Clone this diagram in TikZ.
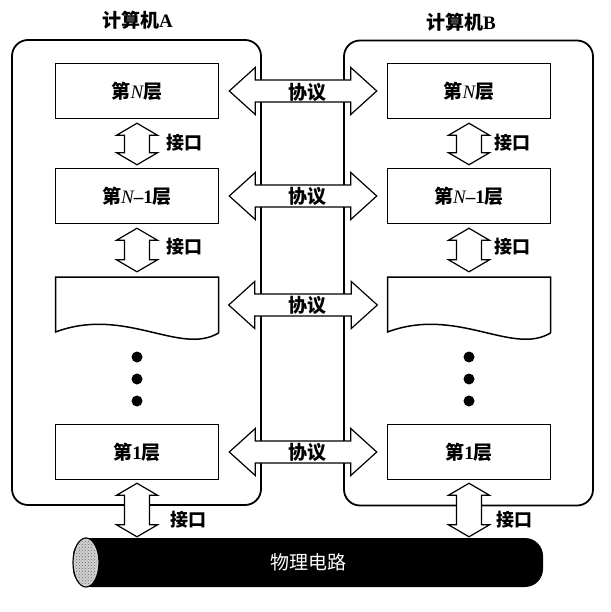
\documentclass[tikz,border=0pt]{standalone}
\usepackage{fontspec}
\setmainfont{Liberation Serif}
\newfontfamily\cjk{Noto Sans CJK SC}
\usetikzlibrary{calc,patterns}
\newcommand\fatH[2]{%
  \draw[fatarrow] let \p1=#1, \p2=#2 in
    (\x1,\y1) -- (\x1+26pt,\y1+23.5pt) -- (\x1+26pt,\y1+11pt) -- (\x2-26pt,\y1+11pt)
    -- (\x2-26pt,\y1+23.5pt) -- (\x2,\y1) -- (\x2-26pt,\y1-23.5pt) -- (\x2-26pt,\y1-11pt)
    -- (\x1+26pt,\y1-11pt) -- (\x1+26pt,\y1-23.5pt) -- cycle;}
\newcommand\fatV[2]{%
  \draw[fatarrow] let \p1=#1, \p2=#2 in
    (\x1,\y1) -- (\x1+20.5pt,\y1-12pt) -- (\x1+12.5pt,\y1-12pt) -- (\x1+12.5pt,\y2+12pt)
    -- (\x1+20.5pt,\y2+12pt) -- (\x1,\y2) -- (\x1-20.5pt,\y2+12pt) -- (\x1-12.5pt,\y2+12pt)
    -- (\x1-12.5pt,\y1-12pt) -- (\x1-20.5pt,\y1-12pt) -- cycle;}
\begin{document}
\begin{tikzpicture}[x=1pt,y=-1pt,
  computer/.style={draw, line width=1.8pt, rounded corners=16pt, minimum width=249pt, minimum height=465pt, inner sep=0pt},
  layer/.style={draw, line width=1.5pt, minimum width=163pt, minimum height=55pt, inner sep=0pt, font=\fontsize{19}{19}\selectfont\bfseries},
  fatarrow/.style={draw, fill=white, line width=1.2pt, line join=miter},
  lbl/.style={inner sep=0pt, font=\fontsize{18}{18}\selectfont\bfseries},
  plbl/.style={inner sep=0pt, font=\fontsize{19}{19}\selectfont\bfseries},
  title/.style={inner sep=0pt, font=\fontsize{19}{19}\selectfont\bfseries},
  dot/.style={circle, fill=black, minimum size=11pt, inner sep=0pt}]
\useasboundingbox (0,0) rectangle (610,612);

% computers
\node[computer] (compA) at (136.5,272.5) {};
\node[computer] (compB) at (468.5,273) {};
\node[title] (tA) at (137.5,20) {{\cjk 计算机}A};
\node[title] (tB) at (461,22) {{\cjk 计算机}B};

% layers A
\node[layer] (nA) at (137,91) {{\cjk 第}{\mdseries\itshape N}{\cjk 层}};
\node[layer] (n1A) at (137,196) {{\cjk 第}{\mdseries\itshape N}\textendash1{\cjk 层}};
\node[inner sep=0pt, minimum width=163pt, minimum height=56pt] (wA) at (137,305) {};
\draw[line width=1.5pt] (218.5,333) -- (218.5,277) -- (55.5,277) -- (55.5,332)
  .. controls (125,306) and (180,356) .. (218.5,333);
\node[dot] (dA1) at (137,357) {};
\node[dot] (dA2) at (137,379) {};
\node[dot] (dA3) at (137,401) {};
\node[layer] (oneA) at (137,452) {{\cjk 第}1{\cjk 层}};

% layers B
\node[layer] (nB) at (469,91) {{\cjk 第}{\mdseries\itshape N}{\cjk 层}};
\node[layer] (n1B) at (469,196) {{\cjk 第}{\mdseries\itshape N}\textendash1{\cjk 层}};
\node[inner sep=0pt, minimum width=163pt, minimum height=56pt] (wB) at (469,305) {};
\draw[line width=1.5pt] (550.5,333) -- (550.5,277) -- (387.5,277) -- (387.5,332)
  .. controls (457,306) and (512,356) .. (550.5,333);
\node[dot] (dB1) at (469,357) {};
\node[dot] (dB2) at (469,379) {};
\node[dot] (dB3) at (469,401) {};
\node[layer] (oneB) at (469,452) {{\cjk 第}1{\cjk 层}};

% cable
\node[fill=black, rounded corners=18pt, minimum width=470pt, minimum height=49pt, inner sep=0pt] (cable) at (308,562.5) {};
\filldraw[fill=gray!35, draw=black, line width=1.2pt] (86,562.5) ellipse [x radius=13pt, y radius=24.5pt];
\fill[pattern=crosshatch dots, pattern color=gray!80!black] (86,562.5) ellipse [x radius=11pt, y radius=22.5pt];
\node[inner sep=0pt, text=white, font=\fontsize{19}{19}\selectfont] (phys) at (308,562) {\cjk 物理电路};

% interface arrows A
\fatV{($(nA.south)+(0,4)$)}{($(n1A.north)+(0,-3)$)}
\fatV{($(n1A.south)+(0,4)$)}{($(wA.north)+(0,-5)$)}
\fatV{($(oneA.south)+(0,3)$)}{($(cable.north)+(-171,-1)$)}
\node[lbl] (iA1) at (184.5,143) {\cjk 接口};
\node[lbl] (iA2) at (184.5,247) {\cjk 接口};
\node[lbl] (iA3) at (188.5,520) {\cjk 接口};

% interface arrows B
\fatV{($(nB.south)+(0,4)$)}{($(n1B.north)+(0,-3)$)}
\fatV{($(n1B.south)+(0,4)$)}{($(wB.north)+(0,-5)$)}
\fatV{($(oneB.south)+(0,3)$)}{($(cable.north)+(161,-1)$)}
\node[lbl] (iB1) at (512,143) {\cjk 接口};
\node[lbl] (iB2) at (512,247) {\cjk 接口};
\node[lbl] (iB3) at (514,520) {\cjk 接口};

% protocol arrows
\fatH{($(nA.east)+(10,0)$)}{($(nB.west)+(-10,0)$)}
\fatH{($(n1A.east)+(10,0)$)}{($(n1B.west)+(-10,0)$)}
\fatH{($(wA.east)+(10,0)$)}{($(wB.west)+(-10,0)$)}
\fatH{($(oneA.east)+(10,0)$)}{($(oneB.west)+(-10,0)$)}
\node[plbl] (p1) at (307,92) {\cjk 协议};
\node[plbl] (p2) at (307,196) {\cjk 协议};
\node[plbl] (p3) at (307,305) {\cjk 协议};
\node[plbl] (p4) at (307,452) {\cjk 协议};
\end{tikzpicture}
\end{document}
